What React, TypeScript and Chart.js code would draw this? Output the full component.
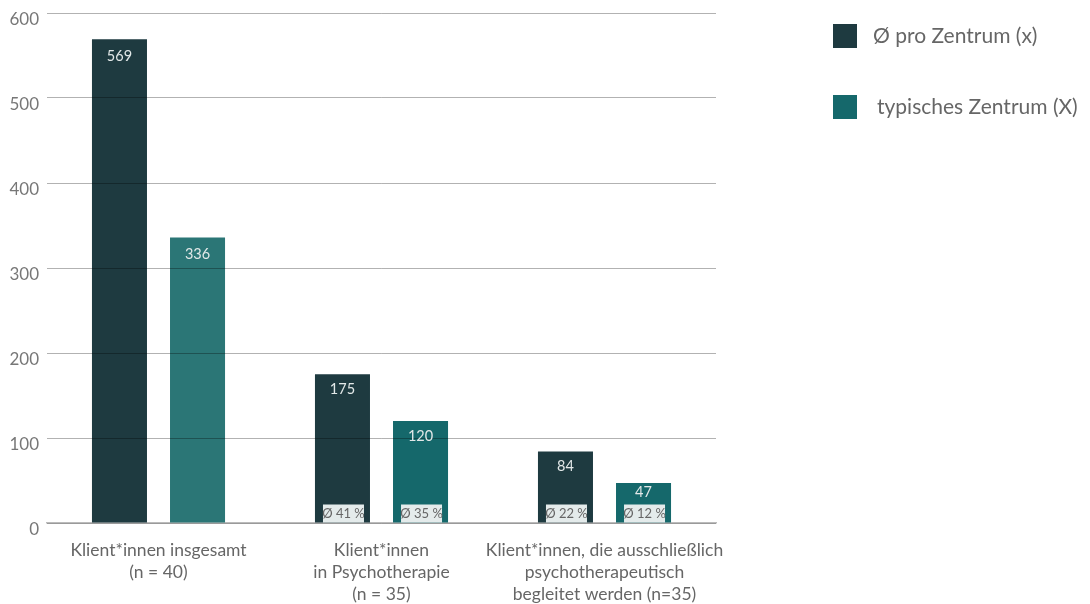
import React, { useEffect, useRef } from "react";
import { Chart, registerables } from "chart.js";

Chart.register(...registerables);

const categories: string[][] = [
  ["Klient*innen insgesamt", "(n = 40)"],
  ["Klient*innen", "in Psychotherapie", "(n = 35)"],
  ["Klient*innen, die ausschließlich", "psychotherapeutisch", "begleitet werden (n=35)"],
];
const avgPerCenter = [569, 175, 84];
const typicalCenter = [336, 120, 47];
const avgShare: (number | null)[] = [null, 41, 22];
const typicalShare: (number | null)[] = [null, 35, 12];
const seriesLabels = ["Ø pro Zentrum (x)", "typisches Zentrum (X)"];
const yTicks = [0, 100, 200, 300, 400, 500, 600];

const DARK = "#1e3a40";
const TEAL = "#15686b";
const TEAL_LIGHT = "#2b7676";
const FONT = "Lato, 'Noto Sans', sans-serif";

const labelsPlugin = {
  id: "customLabels",
  afterDraw(chart: any) {
    const ctx = chart.ctx;
    const shares = [avgShare, typicalShare];
    ctx.save();
    chart.data.datasets.forEach((ds: any, i: number) => {
      const meta = chart.getDatasetMeta(i);
      meta.data.forEach((bar: any, j: number) => {
        const { x, y, base } = bar.getProps(["x", "y", "base"], true);
        const s = shares[i][j];
        const cy = Math.min(y + (s != null ? 15 : 17), base - 30);
        ctx.fillStyle = "#e2e8e8";
        ctx.font = `14.5px ${FONT}`;
        ctx.textAlign = "center";
        ctx.textBaseline = "middle";
        ctx.fillText(String(ds.data[j]), x, cy);
        if (s != null) {
          const bw = 41;
          const bh = 18;
          ctx.fillStyle = "#e4ebeb";
          ctx.fillRect(x - bw / 2 + 1, base - bh, bw, bh);
          ctx.fillStyle = "#666";
          ctx.font = `13px ${FONT}`;
          ctx.fillText(`Ø ${s} %`, x + 1, base - bh / 2);
        }
      });
    });
    // legend
    const colors = [DARK, TEAL];
    seriesLabels.forEach((lab, i) => {
      const top = 24 + i * 71;
      ctx.fillStyle = colors[i];
      ctx.fillRect(833, top, 24, 24);
      ctx.fillStyle = "#666";
      ctx.font = `21px ${FONT}`;
      ctx.textAlign = "left";
      ctx.textBaseline = "middle";
      ctx.fillText(lab, 873 + i * 4, top + 12);
    });
    ctx.restore();
  },
};

export default function App() {
  const ref = useRef<HTMLCanvasElement | null>(null);
  useEffect(() => {
    if (!ref.current) return;
    const chart = new Chart(ref.current, {
      type: "bar",
      data: {
        labels: categories,
        datasets: [
          {
            label: seriesLabels[0],
            data: avgPerCenter,
            backgroundColor: DARK,
            categoryPercentage: 0.7,
            barPercentage: 0.705,
          },
          {
            label: seriesLabels[1],
            data: typicalCenter,
            backgroundColor: [TEAL_LIGHT, TEAL, TEAL],
            categoryPercentage: 0.7,
            barPercentage: 0.705,
          },
        ],
      },
      options: {
        animation: false,
        responsive: true,
        maintainAspectRatio: false,
        layout: { padding: { top: 13, right: 374, left: 0, bottom: 0 } },
        plugins: { legend: { display: false }, tooltip: { enabled: false } },
        scales: {
          x: {
            grid: { display: false, drawTicks: false },
            border: { display: true, color: "#bbb", width: 1.5 },
            ticks: {
              color: "#666",
              font: { family: FONT, size: 17.5, lineHeight: 1.27 },
              padding: 16,
              maxRotation: 0,
              autoSkip: false,
            },
            afterFit: (s: any) => {
              s.height = 81;
            },
          },
          y: {
            min: 0,
            max: 600,
            afterBuildTicks: (s: any) => {
              s.ticks = yTicks.map((v) => ({ value: v }));
            },
            grid: { color: "rgba(0,0,0,0.3)", drawTicks: false, z: 1 },
            border: { display: false },
            ticks: {
              color: "#777",
              font: { family: FONT, size: 17 },
              padding: 8,
              labelOffset: 7,
            },
            afterFit: (s: any) => {
              s.width = 47;
              s.paddingTop = 0;
              s.paddingBottom = 0;
            },
          },
        },
      },
      plugins: [labelsPlugin],
    });
    return () => chart.destroy();
  }, []);
  return (
    <div style={{ position: "fixed", left: 0, top: 0, width: 1090, height: 604, background: "#fff" }}>
      <canvas ref={ref} />
    </div>
  );
}
